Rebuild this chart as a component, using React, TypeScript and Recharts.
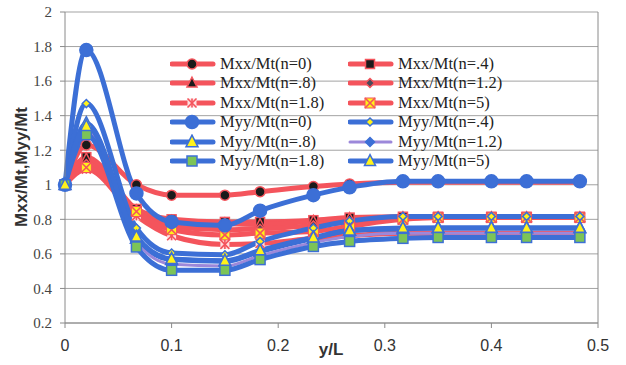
import React from "react";
import {
  LineChart,
  Line,
  XAxis,
  YAxis,
  CartesianGrid,
  ReferenceLine,
} from "recharts";

// y/L positions of the computed points
const xVals = [0, 0.02, 0.067, 0.1, 0.15, 0.183, 0.233, 0.267, 0.317, 0.35, 0.4, 0.433, 0.483];

const mxx0 = [1, 1.23, 1.0, 0.94, 0.94, 0.96, 0.99, 1.005, 1.015, 1.015, 1.015, 1.015, 1.015];
const mxx04 = [1, 1.16, 0.86, 0.8, 0.785, 0.785, 0.795, 0.81, 0.815, 0.815, 0.815, 0.815, 0.815];
const mxx08 = [1, 1.15, 0.85, 0.79, 0.775, 0.77, 0.79, 0.805, 0.81, 0.81, 0.81, 0.81, 0.81];
const mxx12 = [1, 1.12, 0.84, 0.76, 0.74, 0.745, 0.765, 0.785, 0.805, 0.81, 0.81, 0.81, 0.81];
const mxx18 = [1, 1.09, 0.82, 0.705, 0.655, 0.66, 0.69, 0.705, 0.72, 0.72, 0.72, 0.72, 0.72];
const mxx5 = [1, 1.1, 0.845, 0.74, 0.71, 0.72, 0.73, 0.76, 0.8, 0.81, 0.81, 0.81, 0.81];

const myy0 = [1, 1.78, 0.95, 0.785, 0.765, 0.85, 0.94, 0.985, 1.02, 1.02, 1.02, 1.02, 1.02];
const myy04 = [1, 1.47, 0.75, 0.605, 0.595, 0.672, 0.75, 0.79, 0.817, 0.817, 0.817, 0.817, 0.817];
const myy08 = [1, 1.355, 0.69, 0.567, 0.557, 0.614, 0.69, 0.735, 0.745, 0.75, 0.75, 0.75, 0.75];
const myy12 = [1, 1.31, 0.67, 0.54, 0.53, 0.59, 0.665, 0.7, 0.72, 0.72, 0.72, 0.72, 0.72];
const myy18 = [1, 1.29, 0.64, 0.505, 0.505, 0.567, 0.643, 0.672, 0.69, 0.695, 0.695, 0.695, 0.695];
const myy5 = [1, 1.34, 0.7, 0.57, 0.56, 0.62, 0.695, 0.735, 0.75, 0.75, 0.75, 0.75, 0.75];

const xTicks = [0, 0.1, 0.2, 0.3, 0.4, 0.5];
const xTickLabels = ["0", "0.1", "0.2", "0.3", "0.4", "0.5"];
const yTicks = [0.2, 0.4, 0.6, 0.8, 1, 1.2, 1.4, 1.6, 1.8, 2];
const yTickLabels = ["0.2", "0.4", "0.6", "0.8", "1", "1.2", "1.4", "1.6", "1.8", "2"];

const RED = "#f4545c";
const BLUE = "#3c6fd6";
const YELLOW = "#fff21a";
const GREEN = "#7cc457";

const series = [
  { key: "mxx0", name: "Mxx/Mt(n=0)", values: mxx0, color: RED, width: 5, shape: "circle", fill: "#1b1b1b", stroke: RED, size: 5 },
  { key: "mxx04", name: "Mxx/Mt(n=.4)", values: mxx04, color: RED, width: 5, shape: "square", fill: "#1b1b1b", stroke: RED, size: 4.5 },
  { key: "mxx08", name: "Mxx/Mt(n=.8)", values: mxx08, color: RED, width: 5, shape: "triangle", fill: "#1b1b1b", stroke: RED, size: 5 },
  { key: "mxx12", name: "Mxx/Mt(n=1.2)", values: mxx12, color: RED, width: 5, shape: "diamond", fill: "#4a4a5a", stroke: RED, size: 4.5 },
  { key: "mxx18", name: "Mxx/Mt(n=1.8)", values: mxx18, color: RED, width: 5, shape: "star", fill: "#fff", stroke: RED, size: 4.5 },
  { key: "mxx5", name: "Mxx/Mt(n=5)", values: mxx5, color: RED, width: 5, shape: "x", fill: YELLOW, stroke: RED, size: 5 },
  { key: "myy0", name: "Myy/Mt(n=0)", values: myy0, color: BLUE, width: 5, shape: "circle", fill: BLUE, stroke: BLUE, size: 6.5 },
  { key: "myy04", name: "Myy/Mt(n=.4)", values: myy04, color: BLUE, width: 5, shape: "diamond", fill: YELLOW, stroke: BLUE, size: 4 },
  { key: "myy08", name: "Myy/Mt(n=.8)", values: myy08, color: BLUE, width: 5, shape: "triangle", fill: YELLOW, stroke: BLUE, size: 6 },
  { key: "myy12", name: "Myy/Mt(n=1.2)", values: myy12, color: "#9c88da", width: 3, shape: "diamond", fill: BLUE, stroke: BLUE, size: 4.5 },
  { key: "myy18", name: "Myy/Mt(n=1.8)", values: myy18, color: BLUE, width: 5, shape: "square", fill: GREEN, stroke: BLUE, size: 5 },
  { key: "myy5", name: "Myy/Mt(n=5)", values: myy5, color: BLUE, width: 5, shape: "triangle", fill: YELLOW, stroke: BLUE, size: 5.5 },
];

const data = xVals.map((x, i) => {
  const row: any = { x };
  series.forEach((s) => (row[s.key] = s.values[i]));
  return row;
});

function Marker({ shape, cx, cy, fill, stroke, size }: any) {
  const s = size;
  switch (shape) {
    case "circle":
      return <circle cx={cx} cy={cy} r={s} fill={fill} stroke={stroke} strokeWidth={1.5} />;
    case "square":
      return <rect x={cx - s} y={cy - s} width={2 * s} height={2 * s} fill={fill} stroke={stroke} strokeWidth={1.5} />;
    case "triangle":
      return (
        <polygon
          points={`${cx},${cy - s * 1.15} ${cx + s},${cy + s * 0.8} ${cx - s},${cy + s * 0.8}`}
          fill={fill}
          stroke={stroke}
          strokeWidth={1.5}
        />
      );
    case "diamond":
      return (
        <polygon
          points={`${cx},${cy - s} ${cx + s},${cy} ${cx},${cy + s} ${cx - s},${cy}`}
          fill={fill}
          stroke={stroke}
          strokeWidth={1.5}
        />
      );
    case "star":
      return (
        <g stroke={stroke} strokeWidth={1.6}>
          <rect x={cx - s} y={cy - s} width={2 * s} height={2 * s} fill="#ffdfe0" stroke="none" />
          <line x1={cx - s} y1={cy - s} x2={cx + s} y2={cy + s} />
          <line x1={cx - s} y1={cy + s} x2={cx + s} y2={cy - s} />
          <line x1={cx} y1={cy - s} x2={cx} y2={cy + s} />
        </g>
      );
    case "x":
      return (
        <g>
          <rect x={cx - s} y={cy - s} width={2 * s} height={2 * s} fill={fill} stroke={stroke} strokeWidth={1} />
          <line x1={cx - s} y1={cy - s} x2={cx + s} y2={cy + s} stroke={stroke} strokeWidth={1.6} />
          <line x1={cx - s} y1={cy + s} x2={cx + s} y2={cy - s} stroke={stroke} strokeWidth={1.6} />
        </g>
      );
    default:
      return null;
  }
}

const makeDot = (s: any) => (props: any) => (
  <Marker key={`${s.key}-${props.index}`} shape={s.shape} cx={props.cx} cy={props.cy} fill={s.fill} stroke={s.stroke} size={s.size} />
);

function LegendItem({ s }: any) {
  return (
    <div style={{ display: "flex", alignItems: "center", height: 19.5 }}>
      <svg width={46} height={16} style={{ flex: "none" }}>
        <line x1={2} y1={8} x2={43} y2={8} stroke={s.color} strokeWidth={s.width} strokeLinecap="round" />
        <Marker shape={s.shape} cx={22} cy={8} fill={s.fill} stroke={s.stroke} size={s.size} />
      </svg>
      <span style={{ marginLeft: 4, whiteSpace: "nowrap" }}>{s.name}</span>
    </div>
  );
}

export default function App() {
  return (
    <div style={{ position: "absolute", left: 0, top: 0, width: 626, height: 365, background: "#fff" }}>
      <LineChart width={626} height={365} data={data} margin={{ top: 12, right: 28, left: 0, bottom: 12 }}>
        <CartesianGrid vertical={false} stroke="#a3a3a3" strokeWidth={1} />
        <XAxis
          dataKey="x"
          type="number"
          domain={[0, 0.5]}
          ticks={xTicks}
          tickFormatter={(v) => xTickLabels[xTicks.indexOf(v)] ?? String(v)}
          stroke="#8a8a8a"
          tickSize={5}
          tickMargin={12}
          height={30}
          tick={{ fill: "#333", fontSize: 16, fontFamily: "Liberation Sans, Arial, sans-serif" }}
        />
        <YAxis
          type="number"
          domain={[0.2, 2]}
          ticks={yTicks}
          tickFormatter={(v) => yTickLabels[yTicks.indexOf(v)] ?? String(v)}
          stroke="#8a8a8a"
          width={65}
          tickSize={5}
          tickMargin={8}
          tick={{ fill: "#444", fontSize: 15, fontFamily: "Liberation Serif, Times New Roman, serif" }}
        />
        <ReferenceLine x={0.5} stroke="#8a8a8a" />
        {series.map((s) => (
          <Line
            key={s.key}
            dataKey={s.key}
            name={s.name}
            type="monotone"
            stroke={s.color}
            strokeWidth={s.width}
            dot={makeDot(s)}
            activeDot={false}
            isAnimationActive={false}
          />
        ))}
      </LineChart>

      <div
        style={{
          position: "absolute",
          left: 22,
          top: 167,
          transform: "translate(-50%, -50%) rotate(-90deg)",
          fontFamily: "Liberation Sans, Arial, sans-serif",
          fontWeight: "bold",
          fontSize: 17,
          color: "#333",
          whiteSpace: "nowrap",
        }}
      >
        Mxx/Mt,Myy/Mt
      </div>
      <div
        style={{
          position: "absolute",
          left: 331,
          top: 350,
          transform: "translate(-50%, -50%)",
          fontFamily: "Liberation Sans, Arial, sans-serif",
          fontWeight: "bold",
          fontSize: 17,
          color: "#333",
        }}
      >
        y/L
      </div>

      <div
        style={{
          position: "absolute",
          left: 170,
          top: 54,
          display: "grid",
          gridTemplateColumns: "178px 200px",
          fontFamily: "Liberation Serif, Times New Roman, serif",
          fontSize: 16.5,
          color: "#222",
        }}
      >
        {series.map((s) => (
          <LegendItem key={s.key} s={s} />
        ))}
      </div>
    </div>
  );
}
